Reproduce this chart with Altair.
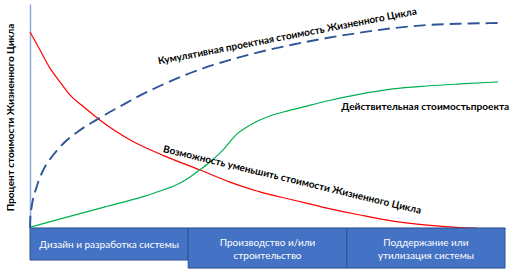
import altair as alt
import pandas as pd

# x = position in the life cycle (0-100), y = percent of life-cycle cost (0-100)
red_x = [0.0, 2.1, 4.2, 6.3, 8.4, 11.6, 14.7, 21.1, 28.4, 35.8, 42.1, 48.4, 55.4, 62.5, 69.5, 76.4, 83.6, 90.5, 94.1]
red_y = [87.5, 79.5, 71.4, 65.2, 59.4, 53.6, 48.2, 39.3, 32.1, 25.9, 20.5, 16.1, 12.5, 8.9, 5.8, 3.1, 1.3, 0.2, 0.0]

blue_x = [0.0, 0.06, 0.36, 1.41, 2.8, 4.9, 7.4, 10.2, 14.4, 18.9, 23.2, 27.4, 33.0, 38.6, 44.2, 49.8,
          55.4, 62.5, 69.5, 76.4, 83.6, 90.5, 98.5]
blue_y = [0.0, 4.5, 9.5, 18.4, 25.9, 32.6, 38.5, 43.2, 48.8, 54.2, 59.2, 63.5, 68.6, 72.8, 76.3, 79.3,
          81.9, 84.8, 87.2, 89.2, 90.6, 91.2, 91.5]

green_x = [0.0, 7.4, 15.8, 23.8, 27.4, 31.6, 33.7, 35.4, 37.9, 40.6, 43.6, 45.7, 48.4, 50.5, 54.1, 56.8,
           62.5, 69.5, 76.4, 83.6, 90.5, 98.5]
green_y = [0.4, 4.6, 9.4, 14.0, 16.5, 20.1, 22.8, 25.4, 29.5, 34.8, 42.0, 45.1, 48.2, 50.0, 52.2, 53.6,
           56.7, 59.8, 62.1, 63.4, 64.3, 65.2]

phase_names = ["Дизайн и разработка системы",
               "Производство и/или\nстроительство",
               "Поддержание  или\nутилизация системы"]
phase_start = [0.0, 33.3, 66.7]
phase_end = [33.3, 66.7, 100.0]
phase_bottom = [-14.3, -17.9, -17.9]

curve_labels = ["Кумулятивная проектная стоимость Жизненного Цикла",
                "Возможность уменьшить стоимости Жизненного Цикла"]
label_x = [54.2, 55.2]
label_y = [85.5, 21.4]
label_angle = [349, 13.5]

actual_label = ["Действительная стоимостьпроекта"]
actual_x = [83.2]
actual_y = [54.0]

y_title = "Процент стоимости Жизненного Цикла"

FONT = "Lato"

xs = alt.Scale(domain=[0, 100], nice=False, zero=False)
ys = alt.Scale(domain=[0, 100], nice=False, zero=False)

red_df = pd.DataFrame({"x": red_x, "y": red_y})
blue_df = pd.DataFrame({"x": blue_x, "y": blue_y})
green_df = pd.DataFrame({"x": green_x, "y": green_y})
phase_df = pd.DataFrame({"name": phase_names, "x0": phase_start, "x1": phase_end,
                         "y1": phase_bottom})
phase_df["y0"] = 0.0
phase_df["xm"] = (phase_df["x0"] + phase_df["x1"]) / 2
phase_df["nl"] = phase_df["name"].str.count("\n")
phase_df["ym"] = phase_df["y1"] * 0.53 + 2.9 * phase_df["nl"]

x_enc = alt.X("x:Q", scale=xs,
              axis=alt.Axis(title=None, labels=False, ticks=False, grid=False,
                            domainColor="#8FAADC", domainWidth=1.5))
y_enc = alt.Y("y:Q", scale=ys,
              axis=alt.Axis(title=y_title, labels=False, ticks=False, grid=False,
                            domainColor="#8FAADC", domainWidth=1.5,
                            titleFont=FONT, titleFontSize=10, titleFontWeight="bold",
                            titleColor="#000000", titleX=-20, titleY=113,
                            titleAngle=270, titleAlign="center", titleBaseline="middle"))

boxes = alt.Chart(phase_df).mark_rect(fill="#4472C4", stroke="#2F528F", strokeWidth=1).encode(
    x=alt.X("x0:Q", scale=xs), x2="x1:Q",
    y=alt.Y("y0:Q", scale=ys), y2="y1:Q")

box_text = alt.Chart(phase_df).mark_text(font=FONT, fontSize=10, color="white",
                                          lineBreak="\n", lineHeight=13,
                                          align="center", baseline="middle").encode(
    x=alt.X("xm:Q", scale=xs), y=alt.Y("ym:Q", scale=ys), text="name:N")

red = alt.Chart(red_df).mark_line(color="#FF0000", strokeWidth=1.2, interpolate="monotone").encode(
    x=x_enc, y=y_enc)
green = alt.Chart(green_df).mark_line(color="#00B050", strokeWidth=1.2, interpolate="monotone").encode(
    x=alt.X("x:Q", scale=xs), y=alt.Y("y:Q", scale=ys))
blue = alt.Chart(blue_df).mark_line(color="#2F5597", strokeWidth=1.9, strokeDash=[12, 6],
                                    interpolate="monotone").encode(
    x=alt.X("x:Q", scale=xs), y=alt.Y("y:Q", scale=ys))

lab_df = pd.DataFrame({"t": curve_labels, "x": label_x, "y": label_y, "a": label_angle})
labels = alt.Chart(lab_df).mark_text(font=FONT, fontSize=10, fontWeight="bold", color="#000000",
                                     align="center", baseline="middle").encode(
    x=alt.X("x:Q", scale=xs), y=alt.Y("y:Q", scale=ys), text="t:N",
    angle=alt.Angle("a:Q", scale=None))

act_df = pd.DataFrame({"t": actual_label, "x": actual_x, "y": actual_y})
act_text = alt.Chart(act_df).mark_text(font=FONT, fontSize=10.1, fontWeight="bold", color="#000000",
                                       align="center", baseline="middle").encode(
    x=alt.X("x:Q", scale=xs), y=alt.Y("y:Q", scale=ys), text="t:N")

chart = alt.layer(red, green, blue, boxes, box_text, labels, act_text).properties(
    width=475, height=224,
    autosize=alt.AutoSizeParams(type="none"),
    padding={"left": 30, "top": 4, "right": 15, "bottom": 45},
    background="white",
).configure_view(stroke=None)

chart.save("out.html", embed_options={"renderer": "svg", "actions": False})
